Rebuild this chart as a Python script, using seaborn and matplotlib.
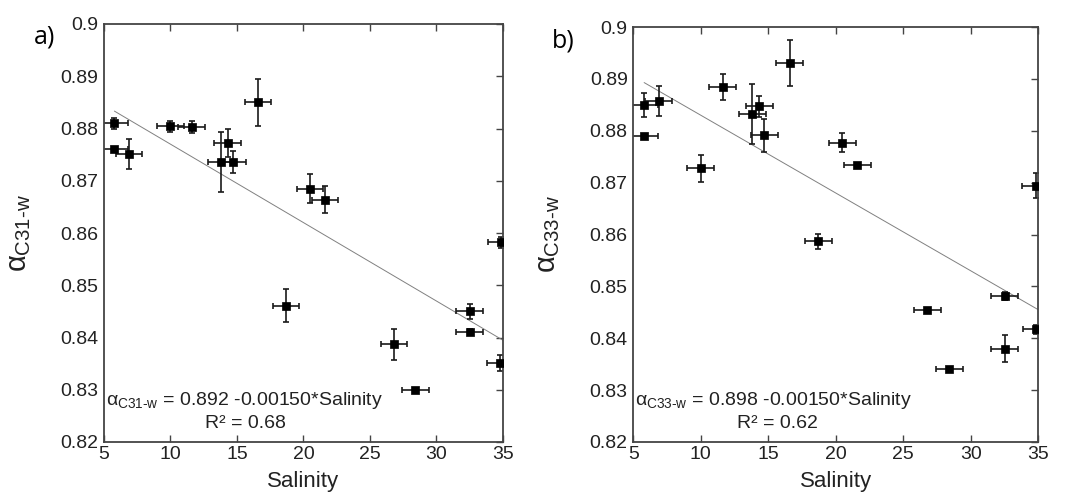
# -*- coding: UTF-8 -*-

import matplotlib
matplotlib.use("Agg")
from matplotlib import pyplot as plt
from matplotlib.axes import Axes
from matplotlib.ticker import FuncFormatter
import pandas as pd
import seaborn as sns

# panel a) alpha C31-w vs salinity
sal_a = [5.78, 5.78, 6.88, 9.98, 11.59, 16.6, 14.29, 13.79, 14.69, 20.5, 21.63, 34.88,
         18.7, 32.52, 32.52, 26.81, 34.83, 28.42]
alpha_a = [0.8810, 0.8760, 0.8751, 0.8804, 0.8803, 0.8850, 0.8772, 0.8736, 0.8736, 0.8685,
           0.8664, 0.8582, 0.8461, 0.8450, 0.8411, 0.8387, 0.8351, 0.8299]
yerr_a = [0.0011, 0.0004, 0.0029, 0.0010, 0.0012, 0.0045, 0.0027, 0.0057, 0.0021, 0.0028,
          0.0026, 0.0010, 0.0032, 0.0015, 0.0005, 0.0030, 0.0015, 0.0005]
xerr_a = [1.0] * 18

# panel b) alpha C33-w vs salinity
sal_b = [5.81, 6.9, 5.81, 10.0, 11.63, 16.61, 14.32, 13.8, 14.71, 20.5, 21.61, 34.8,
         18.7, 32.53, 26.79, 34.85, 32.53, 28.42]
alpha_b = [0.8849, 0.8858, 0.8790, 0.8728, 0.8884, 0.8930, 0.8847, 0.8833, 0.8791, 0.8777,
           0.8734, 0.8694, 0.8587, 0.8482, 0.8454, 0.8417, 0.8380, 0.8341]
yerr_b = [0.0023, 0.0029, 0.0004, 0.0026, 0.0025, 0.0044, 0.0020, 0.0058, 0.0032, 0.0018,
          0.0004, 0.0024, 0.0014, 0.0008, 0.0004, 0.0008, 0.0026, 0.0004]
xerr_b = [1.0] * 18

# linear fits as given in the figure: intercept, slope, R2
fit_a = (0.892, -0.00150, "0.68")
fit_b = (0.898, -0.00150, "0.62")

x_ticks = [5, 10, 15, 20, 25, 30, 35]
y_ticks = [0.82, 0.83, 0.84, 0.85, 0.86, 0.87, 0.88, 0.89, 0.90]

sns.set_style("white")
plt.rcParams["font.family"] = ["Liberation Sans", "DejaVu Sans"]
plt.rcParams["mathtext.fontset"] = "custom"
plt.rcParams["mathtext.rm"] = "Liberation Sans"
plt.rcParams["mathtext.it"] = "Liberation Sans"

SPINE = "#444444"
TEXT = "#222222"


def panel(ax: Axes, sal, alpha, xerr, yerr, fit, sub: str) -> None:
    df = pd.DataFrame({"Salinity": sal, "alpha": alpha})

    # error bars first, then the square markers on top
    ax.errorbar(sal, alpha, xerr=xerr, yerr=yerr, fmt="none", ecolor="#1a1a1a",
                elinewidth=1.2, capsize=2.5, capthick=1.2, zorder=2)
    sns.scatterplot(data=df, x="Salinity", y="alpha", ax=ax, marker="s", s=40,
                    color="black", edgecolor="black", linewidth=0.5, zorder=3)

    # regression line from the first sample up to the right edge
    intercept, slope, r2 = fit
    line = pd.DataFrame({"Salinity": [min(sal), 35.0]})
    line["alpha"] = intercept + slope * line["Salinity"]
    sns.lineplot(data=line, x="Salinity", y="alpha", ax=ax, color="#808080",
                 linewidth=0.7, zorder=1)

    ax.set_xlim(5, 35)
    ax.set_ylim(0.82, 0.90)
    ax.set_xticks(x_ticks)
    ax.set_yticks(y_ticks)
    ax.yaxis.set_major_formatter(FuncFormatter(lambda v, p: f"{v:g}"))
    ax.tick_params(axis="x", direction="in", top=True, bottom=True, length=5,
                   width=1, color=SPINE, labelsize=14, labelcolor=TEXT, pad=3)
    ax.tick_params(axis="y", direction="in", left=False, right=True, length=5,
                   width=1, color=SPINE, labelsize=14, labelcolor=TEXT, pad=4)
    for s in ax.spines.values():
        s.set_color(SPINE)
        s.set_linewidth(1.3)

    sym = r"$\alpha_{\mathrm{C" + sub + r"{\text{-}}w}}$"
    ax.set_xlabel("Salinity", fontsize=16, color=TEXT, labelpad=6)
    ax.set_ylabel(sym, fontsize=21, color=TEXT, labelpad=20)

    ax.text(0.005, 0.10, sym + f" = {intercept:.3f} {slope:.5f}*Salinity",
            transform=ax.transAxes, fontsize=14, color=TEXT, ha="left", va="center")
    ax.text(0.355, 0.045, "R² = " + r2, transform=ax.transAxes, fontsize=14,
            color=TEXT, ha="center", va="center")


fig = plt.figure(figsize=(10.66, 5.0), dpi=100)
ax_a = fig.add_axes([0.0976, 0.116, 0.374, 0.836])
ax_b = fig.add_axes([0.594, 0.116, 0.380, 0.830])

panel(ax_a, sal_a, alpha_a, xerr_a, yerr_a, fit_a, "31")
panel(ax_b, sal_b, alpha_b, xerr_b, yerr_b, fit_b, "33")

# panel tags
tag_font = dict(fontsize=18, family=["Open Sans", "DejaVu Sans"], color="black",
                ha="center", va="center")
fig.text(45 / 1066, 1 - 37 / 500, "a)", **tag_font)
fig.text(563 / 1066, 1 - 41 / 500, "b)", **tag_font)

plt.savefig("out.png", dpi=100)
plt.close()
